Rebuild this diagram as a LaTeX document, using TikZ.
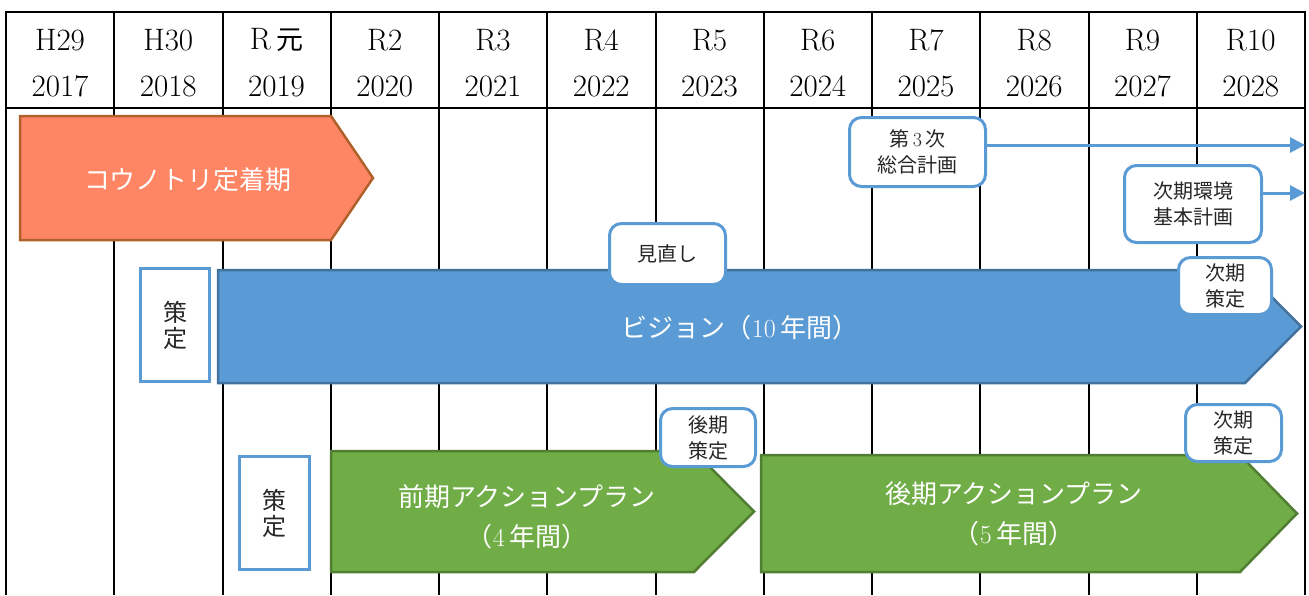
\documentclass[tikz,border=0pt]{standalone}
\usepackage{fontspec}
\newfontfamily\jp{Noto Sans CJK JP}
\usetikzlibrary{arrows.meta}
\definecolor{cblue}{HTML}{5B9BD5}
\definecolor{cbluedark}{HTML}{41719C}
\definecolor{corange}{HTML}{FF8664}
\definecolor{corangedark}{HTML}{B0602A}
\definecolor{cgreen}{HTML}{70AD47}
\definecolor{cgreendark}{HTML}{507E32}
\definecolor{ctext}{HTML}{262626}
\tikzset{
  gridline/.style={line width=2pt, black},
  hdr/.style={font=\fontsize{31}{34}\selectfont, inner sep=0pt},
  bigtext/.style={text=white, font=\fontsize{26}{40}\selectfont, align=center, inner sep=0pt},
  callout/.style={draw=cblue, line width=3pt, fill=white, rounded corners=12pt,
     text=ctext, font=\fontsize{20}{26}\selectfont, align=center, inner sep=0pt},
  sakutei/.style={draw=cblue, line width=3pt, fill=white, text=ctext,
     font=\fontsize{24}{26}\selectfont, align=center, inner sep=0pt},
  flow/.style={draw=cblue, line width=3pt, -{Triangle[length=15pt,width=15pt]}},
  orangeshape/.style={fill=corange, draw=corangedark, line width=2.5pt},
  blueshape/.style={fill=cblue, draw=cbluedark, line width=2.5pt},
  greenshape/.style={fill=cgreen, draw=cgreendark, line width=2.5pt}
}
\begin{document}
\begin{tikzpicture}[x=1pt,y=-1pt]
\useasboundingbox (0,0) rectangle (1309,595);
% grid
\foreach \i in {0,...,12} \draw[gridline] (6+108.25*\i,12) -- (6+108.25*\i,595);
\draw[gridline] (5,12) -- (1306,12);
\draw[gridline] (5,108) -- (1306,108);
% header
\foreach \a/\b [count=\i from 0] in {H29/2017,H30/2018,{R\,{\jp\fontsize{27}{30}\selectfont 元}}/2019,R2/2020,R3/2021,R4/2022,R5/2023,R6/2024,R7/2025,R8/2026,R9/2027,R10/2028}{
  \node[hdr] (hy\i) at (60+108.25*\i,40) {\a};
  \node[hdr] (hn\i) at (60+108.25*\i,86) {\b};
}
% orange
\draw[orangeshape] (20,116) -- (331,116) -- (373,178) -- (331,240) -- (20,240) -- cycle;
\node[bigtext] (kounotori) at (188,180) {\jp コウノトリ定着期};
% blue
\node[sakutei, minimum width=69pt, minimum height=113pt] (sak1) at (175,325) {\jp 策\\\jp 定};
\draw[blueshape] (218,270) -- (1245,270) -- (1301,326.5) -- (1245,383) -- (218,383) -- cycle;
\node[bigtext] (vision) at (740,328) {{\jp ビジョン（}10\,{\jp 年間）}};
% green
\node[sakutei, minimum width=70pt, minimum height=113pt] (sak2) at (274.5,513) {\jp 策\\\jp 定};
\draw[greenshape] (331,451) -- (694,451) -- (754,511.5) -- (694,572) -- (331,572) -- cycle;
\node[bigtext] (zenki) at (527,517) {\jp 前期アクションプラン\\{\jp （}4\,{\jp 年間）}};
\draw[greenshape] (761,455) -- (1240,455) -- (1297,513.5) -- (1240,572) -- (761,572) -- cycle;
\node[bigtext] (kouki) at (1014,514) {\jp 後期アクションプラン\\{\jp （}5\,{\jp 年間）}};
% callouts
\node[callout, minimum width=116pt, minimum height=61pt] (minaoshi) at (667.5,254) {\jp 見直し};
\node[callout, minimum width=136pt, minimum height=69pt] (daisanji) at (917.5,152) {{\jp 第}\,3\,{\jp 次}\\\jp 総合計画};
\node[callout, minimum width=137pt, minimum height=77pt] (kankyo) at (1193,204) {\jp 次期環境\\\jp 基本計画};
\node[callout, minimum width=93pt, minimum height=57pt] (jikiv) at (1225,286) {\jp 次期\\\jp 策定};
\node[callout, minimum width=95pt, minimum height=58pt] (koukisak) at (708,437.5) {\jp 後期\\\jp 策定};
\node[callout, minimum width=96pt, minimum height=57pt] (jikia) at (1233.5,433) {\jp 次期\\\jp 策定};
% arrows
\coordinate (e1) at (1305,145);
\coordinate (e2) at (1305,193);
\draw[flow] (daisanji.east |- e1) -- (e1);
\draw[flow] (kankyo.east |- e2) -- (e2);
\end{tikzpicture}
\end{document}
